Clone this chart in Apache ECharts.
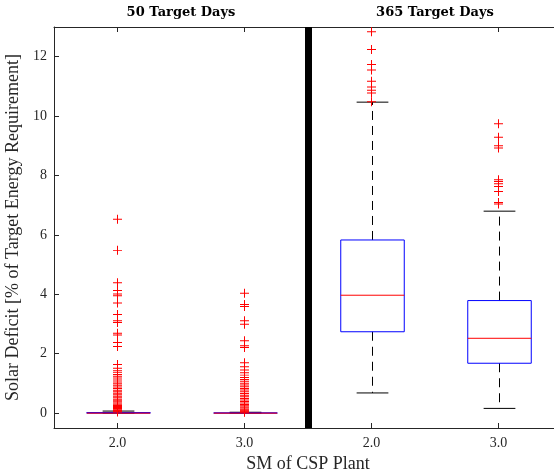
<!DOCTYPE html>
<html>
<head>
<meta charset="utf-8">
<script src="https://cdn.jsdelivr.net/npm/echarts@6/dist/echarts.min.js"></script>
<style>
  html, body { margin: 0; padding: 0; background: #fff; }
  #chart { width: 554px; height: 476px; }
</style>
</head>
<body>
<div id="chart"></div>
<script>
// Panel titles and SM category labels
var panelTitles = ['50 Target Days', '365 Target Days'];
var smLabels = ['2.0', '3.0', '2.0', '3.0'];
var yTicks = [0, 2, 4, 6, 8, 10, 12];

// Box statistics per group: [low whisker, Q1, median, Q3, high whisker]
var boxStats50sm2 = [0, 0, 0, 0.02, 0.07];
var boxStats50sm3 = [0, 0, 0, 0.01, 0.03];
var boxStats365sm2 = [0.68, 2.74, 3.97, 5.83, 10.47];
var boxStats365sm3 = [0.16, 1.68, 2.52, 3.79, 6.80];

// Outliers per group
var outliers50sm2 = [6.53, 5.48, 4.39, 4.13, 4.01, 3.95, 3.71, 3.32, 3.11, 3.05, 2.69, 2.63,
  2.38, 2.24, 1.64, 1.51, 1.44, 1.38, 1.30, 1.24, 1.18, 1.12, 1.05, 0.99, 0.94, 0.88, 0.83,
  0.77, 0.72, 0.67, 0.62, 0.57, 0.52, 0.47, 0.43, 0.38, 0.34, 0.30, 0.26, 0.22, 0.19, 0.16,
  0.13, 0.10, 0.08, 0.06, 0.04];
var outliers50sm3 = [4.04, 3.66, 3.59, 3.11, 2.99, 2.44, 2.27, 2.21, 1.70, 1.56, 1.45, 1.36,
  1.28, 1.20, 1.13, 1.07, 1.01, 0.95, 0.89, 0.83, 0.78, 0.72, 0.66, 0.60, 0.55, 0.49, 0.44,
  0.39, 0.34, 0.29, 0.25, 0.21, 0.17, 0.13, 0.10, 0.07, 0.05, 0.03];
var outliers365sm2 = [12.84, 12.24, 11.74, 11.55, 11.17, 10.98, 10.87, 10.78, 10.48];
var outliers365sm3 = [9.74, 9.29, 9.00, 8.93, 7.86, 7.80, 7.72, 7.63, 7.46, 7.09, 7.04];

var groupStats = [boxStats50sm2, boxStats50sm3, boxStats365sm2, boxStats365sm3];
var groupOutliers = [outliers50sm2, outliers50sm3, outliers365sm2, outliers365sm3];

var boxData = groupStats.map(function (s, i) { return [i + 1].concat(s); });
var outlierData = [];
groupOutliers.forEach(function (list, i) {
  list.forEach(function (v) { outlierData.push([i + 1, v]); });
});

var serif = 'Liberation Serif';
var axisColor = '#262626';
var plusSymbol = 'path://M4.45,0H5.55V4.45H10V5.55H5.55V10H4.45V5.55H0V4.45H4.45Z';

function renderBox(params, api) {
  var x = api.value(0);
  var half = api.size([1, 0])[0] * 0.25;
  var capHalf = half / 2;
  var low = api.coord([x, api.value(1)]);
  var q1 = api.coord([x, api.value(2)]);
  var med = api.coord([x, api.value(3)]);
  var q3 = api.coord([x, api.value(4)]);
  var high = api.coord([x, api.value(5)]);
  var cx = Math.round(low[0]) + 0.5;
  var dashed = { stroke: '#000', lineWidth: 1, lineDash: [9, 6] };
  var solid = { stroke: '#000', lineWidth: 1 };
  return {
    type: 'group',
    children: [
      { type: 'line', shape: { x1: cx, y1: q3[1], x2: cx, y2: high[1] }, style: dashed },
      { type: 'line', shape: { x1: cx, y1: q1[1], x2: cx, y2: low[1] }, style: dashed },
      { type: 'line', shape: { x1: cx - capHalf, y1: high[1], x2: cx + capHalf, y2: high[1] }, style: solid },
      { type: 'line', shape: { x1: cx - capHalf, y1: low[1], x2: cx + capHalf, y2: low[1] }, style: solid },
      { type: 'rect', shape: { x: cx - half, y: q3[1], width: 2 * half, height: q1[1] - q3[1] },
        style: { fill: 'none', stroke: '#0000ff', lineWidth: 1 } },
      { type: 'line', shape: { x1: cx - half, y1: med[1], x2: cx + half, y2: med[1] },
        style: { stroke: '#ff0000', lineWidth: 1 } }
    ]
  };
}

var chart = echarts.init(document.getElementById('chart'), null, { renderer: 'canvas' });
chart.setOption({
  animation: false,
  backgroundColor: '#ffffff',
  grid: { left: 54, top: 27, width: 508, height: 401, containLabel: false, outerBoundsMode: 'none' },
  xAxis: [
    {
      type: 'value', position: 'bottom', min: 0.5, max: 4.5,
      name: 'SM of CSP Plant', nameLocation: 'middle', nameGap: 27,
      nameTextStyle: { fontFamily: serif, fontSize: 18, color: '#262626' },
      axisLine: { onZero: false, lineStyle: { color: axisColor, width: 1 } },
      axisTick: { inside: true, length: 5, customValues: [1, 2, 3, 4], lineStyle: { color: axisColor } },
      axisLabel: {
        customValues: [1, 2, 3, 4], margin: 8,
        fontFamily: serif, fontSize: 14, color: '#262626',
        formatter: function (v) { return smLabels[Math.round(v) - 1]; }
      },
      splitLine: { show: false }
    },
    {
      type: 'value', position: 'top', min: 0.5, max: 4.5,
      axisLine: { onZero: false, lineStyle: { color: axisColor, width: 1 } },
      axisTick: { inside: true, length: 5, customValues: [1, 2, 3, 4], lineStyle: { color: axisColor } },
      axisLabel: {
        customValues: [1.5, 3.5], margin: 8,
        fontFamily: 'DejaVu Serif', fontWeight: 'bold', fontSize: 13, color: '#000',
        formatter: function (v) { return panelTitles[v < 2.5 ? 0 : 1]; }
      },
      splitLine: { show: false }
    }
  ],
  yAxis: {
    type: 'value', min: -0.5, max: 13,
    name: 'Solar Deficit [% of Target Energy Requirement]', nameLocation: 'middle', nameGap: 31,
    nameTextStyle: { fontFamily: serif, fontSize: 18, color: '#262626' },
    axisLine: { show: true, onZero: false, lineStyle: { color: axisColor, width: 1 } },
    axisTick: { show: true, inside: true, length: 5, customValues: yTicks, lineStyle: { color: axisColor } },
    axisLabel: { customValues: yTicks, margin: 7, fontFamily: serif, fontSize: 14, color: '#262626' },
    splitLine: { show: false }
  },
  series: [
    {
      type: 'custom', xAxisIndex: 0, renderItem: renderBox,
      encode: { x: 0, y: [1, 2, 3, 4, 5] },
      data: boxData, z: 2
    },
    {
      type: 'scatter', xAxisIndex: 0, data: outlierData,
      symbol: plusSymbol, symbolSize: 9,
      itemStyle: { color: '#ff0000', opacity: 1 },
      z: 3,
      markLine: {
        silent: true, symbol: 'none', label: { show: false },
        lineStyle: { color: '#000', width: 7, type: 'solid', opacity: 1 },
        data: [{ xAxis: 2.5 }]
      }
    }
  ]
});
</script>
</body>
</html>
